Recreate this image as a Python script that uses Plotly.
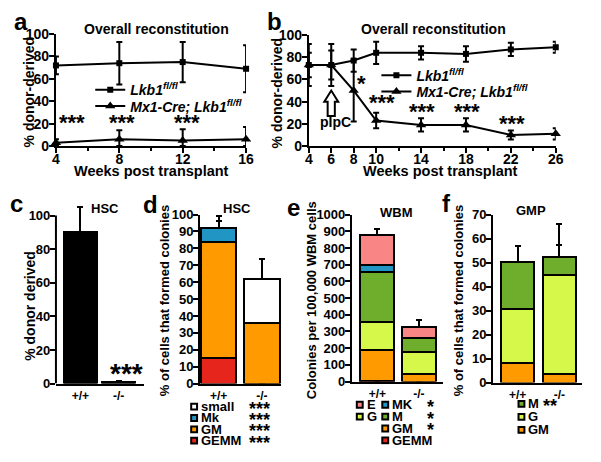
import plotly.graph_objects as go

W, H = 601, 462
FONT = "Liberation Sans"

# ---- panel a: overall reconstitution, primary transplant
weeks_a = [4, 8, 12, 16]
lkb1_a = [72, 74, 75, 69]
lkb1_a_err = [8, 19, 18, 21]
mx1_a = [3, 6, 5, 6]
mx1_a_err_up = [3, 8, 10, 11]
mx1_a_err_down = [3, 6, 5, 6]
stars_a = ["***", "***", "***", "**"]
stars_a_x = [5.0, 8.2, 12.3, 16.2]
stars_a_y = [21, 21, 21, 21]

# ---- panel b: overall reconstitution, pIpC at week 6
weeks_b = [4, 6, 8, 10, 14, 18, 22, 26]
lkb1_b = [73, 73, 77, 84, 84, 83, 87, 89]
lkb1_b_err = [19, 19, 10, 10, 6, 7, 6, 5]
mx1_b = [73, 73, 50, 23, 19, 19, 10, 11]
mx1_b_err = [11, 13, 28, 7, 6, 6, 4, 5]
stars_b = ["*", "***", "***", "***", "***", "***"]
stars_b_x = [8.7, 10.5, 14.1, 18.1, 22.1, 26.1]
stars_b_y = [56, 39, 31, 31, 20, 24]

genotypes = ["+/+", "-/-"]

# ---- panel c: HSC % donor derived
hsc_donor = [90, 1]
hsc_donor_err = [15, 0.6]

# ---- panel d: HSC colonies (bottom -> top)
d_types = ["GEMM", "GM", "Mk", "small"]
d_vals = {"GEMM": [15, 0], "GM": [69, 36], "Mk": [8, 0], "small": [0, 26]}
d_err = {"GEMM": [8, 1], "GM": [12, 19], "Mk": [7, None], "small": [None, 12]}
d_stars = ["***", "***", "***", "***"]

# ---- panel e: WBM colonies (bottom -> top)
e_types = ["GEMM", "GM", "G", "M", "MK", "E"]
e_vals = {"GEMM": [2, 0], "GM": [189, 47], "G": [167, 129],
          "M": [301, 86], "MK": [40, 0], "E": [179, 62]}
e_err = {"GEMM": [14, None], "GM": [52, 28], "G": [29, 86],
         "M": [81, 5], "MK": [77, None], "E": [35, 46]}
e_stars = {"MK": "*", "M": "*", "GM": "*"}

# ---- panel f: GMP colonies (bottom -> top)
f_types = ["GM", "G", "M"]
f_vals = {"GM": [8.3, 3.5], "G": [22.4, 41.5], "M": [19.7, 7.2]}
f_err = {"GM": [9.4, 4.1], "G": [9.1, 12.5], "M": [6.6, 13.8]}

colors = {"GEMM": "#e6261c", "GM": "#ff9a00", "Mk": "#2196c4", "MK": "#2196c4",
          "small": "#ffffff", "E": "#f98585", "G": "#d6f84a", "M": "#6fad2c"}


def px_x(p):
    return p / W


def px_y(p):
    return 1 - p / H


fig = go.Figure()

line_style = dict(color="black", width=2)
eb = dict(color="black", thickness=2, width=3)
lkb1_name = "<b><i>Lkb1<sup>fl/fl</sup></i></b>"
mx1_name = "<b><i>Mx1-Cre; Lkb1<sup>fl/fl</sup></i></b>"

# a
fig.add_trace(go.Scatter(x=weeks_a, y=lkb1_a, mode="lines+markers", line=line_style,
                         marker=dict(symbol="square", size=6, color="black"),
                         error_y=dict(type="data", array=lkb1_a_err, **eb),
                         name=lkb1_name, cliponaxis=False,
                         xaxis="x", yaxis="y", legend="legend"))
fig.add_trace(go.Scatter(x=weeks_a, y=mx1_a, mode="lines+markers", line=line_style,
                         marker=dict(symbol="triangle-up", size=9, color="black"),
                         error_y=dict(type="data", array=mx1_a_err_up, arrayminus=mx1_a_err_down,
                                      symmetric=False, **eb),
                         name=mx1_name, cliponaxis=False,
                         xaxis="x", yaxis="y", legend="legend3"))
# b
fig.add_trace(go.Scatter(x=weeks_b, y=lkb1_b, mode="lines+markers", line=line_style,
                         marker=dict(symbol="square", size=6, color="black"),
                         error_y=dict(type="data", array=lkb1_b_err, **eb),
                         name=lkb1_name, cliponaxis=False,
                         xaxis="x2", yaxis="y2", legend="legend2"))
fig.add_trace(go.Scatter(x=weeks_b, y=mx1_b, mode="lines+markers", line=line_style,
                         marker=dict(symbol="triangle-up", size=9, color="black"),
                         error_y=dict(type="data", array=mx1_b_err, **eb),
                         name=mx1_name, cliponaxis=False,
                         xaxis="x2", yaxis="y2", legend="legend4"))

bar_line = dict(color="black", width=2)
up_err = lambda arr: dict(type="data", array=arr, arrayminus=[0] * len(arr),
                          symmetric=False, **eb)

# c
fig.add_trace(go.Bar(x=[0, 1], y=hsc_donor, width=0.87, marker=dict(color="black", line=bar_line),
                     error_y=up_err(hsc_donor_err), xaxis="x3", yaxis="y3", showlegend=False))
# d
for t in d_types:
    fig.add_trace(go.Bar(x=[0, 1], y=d_vals[t], width=0.82,
                         marker=dict(color=colors[t], line=bar_line),
                         error_y=up_err(d_err[t]), xaxis="x4", yaxis="y4", showlegend=False))
# e
for t in e_types:
    fig.add_trace(go.Bar(x=[0, 1], y=e_vals[t], width=0.82,
                         marker=dict(color=colors[t], line=bar_line),
                         error_y=up_err(e_err[t]), xaxis="x5", yaxis="y5", showlegend=False))
# f
for t in f_types:
    fig.add_trace(go.Bar(x=[0, 1], y=f_vals[t], width=0.8,
                         marker=dict(color=colors[t], line=bar_line),
                         error_y=up_err(f_err[t]), xaxis="x6", yaxis="y6", showlegend=False))

tickfont = dict(family=FONT, size=14, color="black", weight="bold")
small_tickfont = dict(family=FONT, size=13, color="black", weight="bold")
axis_common = dict(showline=True, linecolor="black", linewidth=2, showgrid=False,
                   zeroline=False, ticks="outside", tickcolor="black", tickwidth=2, ticklen=5)
minor_x = dict(dtick=2, ticklen=3, tickwidth=2, ticks="outside", tickcolor="black")


def one_legend(x, y):
    # one entry per legend so each row can sit exactly where the reference has it
    return dict(x=px_x(x), y=px_y(y), xanchor="left", yanchor="middle",
                bgcolor="rgba(0,0,0,0)", font=dict(family=FONT, size=14, color="black"))


layout = dict(
    width=W, height=H, margin=dict(l=0, r=0, t=0, b=0),
    plot_bgcolor="white", paper_bgcolor="white", barmode="stack",
    font=dict(family=FONT, color="black"),
    xaxis=dict(domain=[px_x(53), px_x(247)], range=[4, 16], tickvals=[4, 8, 12, 16],
               minor=minor_x, tickfont=tickfont, ticklabelstandoff=-6, anchor="y", **axis_common),
    yaxis=dict(domain=[px_y(143), px_y(27)], range=[0, 100], dtick=20,
               tickfont=tickfont, ticklabelstandoff=-3, anchor="x", **axis_common),
    xaxis2=dict(domain=[px_x(311), px_x(563)], range=[4, 26], tickvals=[4, 6, 8, 10, 14, 18, 22, 26],
                minor=minor_x, tickfont=tickfont, ticklabelstandoff=-6, anchor="y2", **axis_common),
    yaxis2=dict(domain=[px_y(143), px_y(28)], range=[0, 100], dtick=20,
                tickfont=tickfont, ticklabelstandoff=-3, anchor="x2", **axis_common),
    legend=one_legend(88, 85),
    legend3=one_legend(88, 102),
    legend2=one_legend(380, 70),
    legend4=one_legend(380, 87),
)

bar_axes = {
    3: dict(x=(53, 143), xr=[-0.64, 1.67], y=(389, 204.6), yr=[0, 106], dtick=20, line=False),
    4: dict(x=(200, 283), xr=[-0.43, 1.45], y=(389, 214), yr=[0, 100], dtick=10, line=True),
    5: dict(x=(355, 448), xr=[-0.61, 1.58], y=(387, 214), yr=[0, 1000], dtick=100, line=True),
    6: dict(x=(499, 590), xr=[-0.59, 1.55], y=(388, 214), yr=[0, 70], dtick=10, line=True),
}
for i, s in bar_axes.items():
    layout[f"xaxis{i}"] = dict(domain=[px_x(s["x"][0]), px_x(s["x"][1])], range=s["xr"],
                               tickvals=[0, 1], ticktext=genotypes, ticks="", showline=True,
                               linecolor="black", linewidth=2, showgrid=False, zeroline=False,
                               tickfont=dict(family=FONT, size=12, color="black", weight="bold"),
                               anchor=f"y{i}")
    yc = dict(axis_common)
    yc["showline"] = s["line"]
    layout[f"yaxis{i}"] = dict(domain=[px_y(s["y"][0]), px_y(s["y"][1])], range=s["yr"],
                               tick0=0, dtick=s["dtick"], tickfont=small_tickfont,
                               ticklabelstandoff=-3, anchor=f"x{i}", **yc)
# panel c: axis line and ticks stop at 100, the error cap sits above it
layout["yaxis3"]["tickvals"] = [0, 20, 40, 60, 80, 100]

fig.update_layout(**layout)
fig.add_shape(type="line", xref="x3 domain", yref="y3", x0=0, x1=0, y0=0, y1=100,
              line=dict(color="black", width=2))

# pIpC hollow arrow on panel b
ax, hw, sw = 6, 0.62, 0.32
arrow_path = (f"M {ax - sw} 27 L {ax - sw} 40 L {ax - hw} 40 L {ax} 50 "
              f"L {ax + hw} 40 L {ax + sw} 40 L {ax + sw} 27 Z")
fig.add_shape(type="path", xref="x2", yref="y2", path=arrow_path,
              line=dict(color="black", width=2), fillcolor="white")


def ann(text, x, y, size=14, xanchor="center", yanchor="middle", angle=0, xref="paper",
        yref="paper"):
    fig.add_annotation(text=text, x=x, y=y, xref=xref, yref=yref, showarrow=False,
                       xanchor=xanchor, yanchor=yanchor, textangle=angle,
                       font=dict(family=FONT, size=size, color="black", weight="bold"))


# stars
for s, x, y in zip(stars_a, stars_a_x, stars_a_y):
    ann(s, x, y, size=22, xref="x", yref="y")
for s, x, y in zip(stars_b, stars_b_x, stars_b_y):
    ann(s, x, y, size=22, xref="x2", yref="y2")
ann("***", 1.2, 6, size=28, xref="x3", yref="y3")
ann("pIpC", 6.4, 22, size=14, xref="x2", yref="y2")

# panel letters
for letter, x, y in [("a", 17, 14), ("b", 276, 14), ("c", 13, 202), ("d", 149, 204),
                     ("e", 295, 207), ("f", 452, 202)]:
    ann(letter, px_x(x), px_y(y), size=24)

# titles
ann("Overall reconstitution", px_x(156), px_y(22), size=14)
ann("Overall reconstitution", px_x(438), px_y(22), size=14)
ann("HSC", px_x(103), px_y(208), size=13)
ann("HSC", px_x(238), px_y(208), size=13)
ann("WBM", px_x(400), px_y(212), size=13)
ann("GMP", px_x(538), px_y(210), size=13)
ann("Weeks post transplant", px_x(151), px_y(169), size=14.5)
ann("Weeks post transplant", px_x(445), px_y(169), size=14.5)
ann("% donor-derived", px_x(25), px_y(88), size=14, angle=-90)
ann("% donor-derived", px_x(279), px_y(88), size=14, angle=-90)
ann("% donor derived", px_x(27), px_y(308), size=14, angle=-90)
ann("% of cells that formed colonies", px_x(164), px_y(303), size=13, angle=-90)
ann("Colonies per 100,000 WBM cells", px_x(314), px_y(303), size=13, angle=-90)
ann("% of cells that formed colonies", px_x(464), px_y(303), size=13, angle=-90)


# manual colour keys under the bar panels
def key(x, y, name):
    fig.add_shape(type="rect", xref="paper", yref="paper",
                  x0=px_x(x - 3), x1=px_x(x + 3), y0=px_y(y + 3), y1=px_y(y - 3),
                  line=dict(color="black", width=2), fillcolor=colors[name])
    ann(name, px_x(x + 5), px_y(y), size=13, xanchor="left")


for k, t in enumerate(reversed(d_types)):
    key(194, 413 + 11.7 * k, t)
    ann(d_stars[k], px_x(248), px_y(415 + 11.7 * k), size=18, xanchor="left")
for k, t in enumerate(["E", "G"]):
    key(363, 411 + 12.3 * k, t)
for k, t in enumerate(["MK", "M", "GM", "GEMM"]):
    key(389, 411 + 12.3 * k, t)
    if t in e_stars:
        ann(e_stars[t], px_x(435), px_y(413 + 12.3 * k), size=18)
for k, t in enumerate(reversed(f_types)):
    key(528, 410 + 13.5 * k, t)
ann("**", px_x(548), px_y(412), size=18, xanchor="left")

# the page would otherwise add the browser's default body margin around the figure
fig.write_html("out.html", config={"displayModeBar": False},
               post_script="document.body.style.margin='0';")
